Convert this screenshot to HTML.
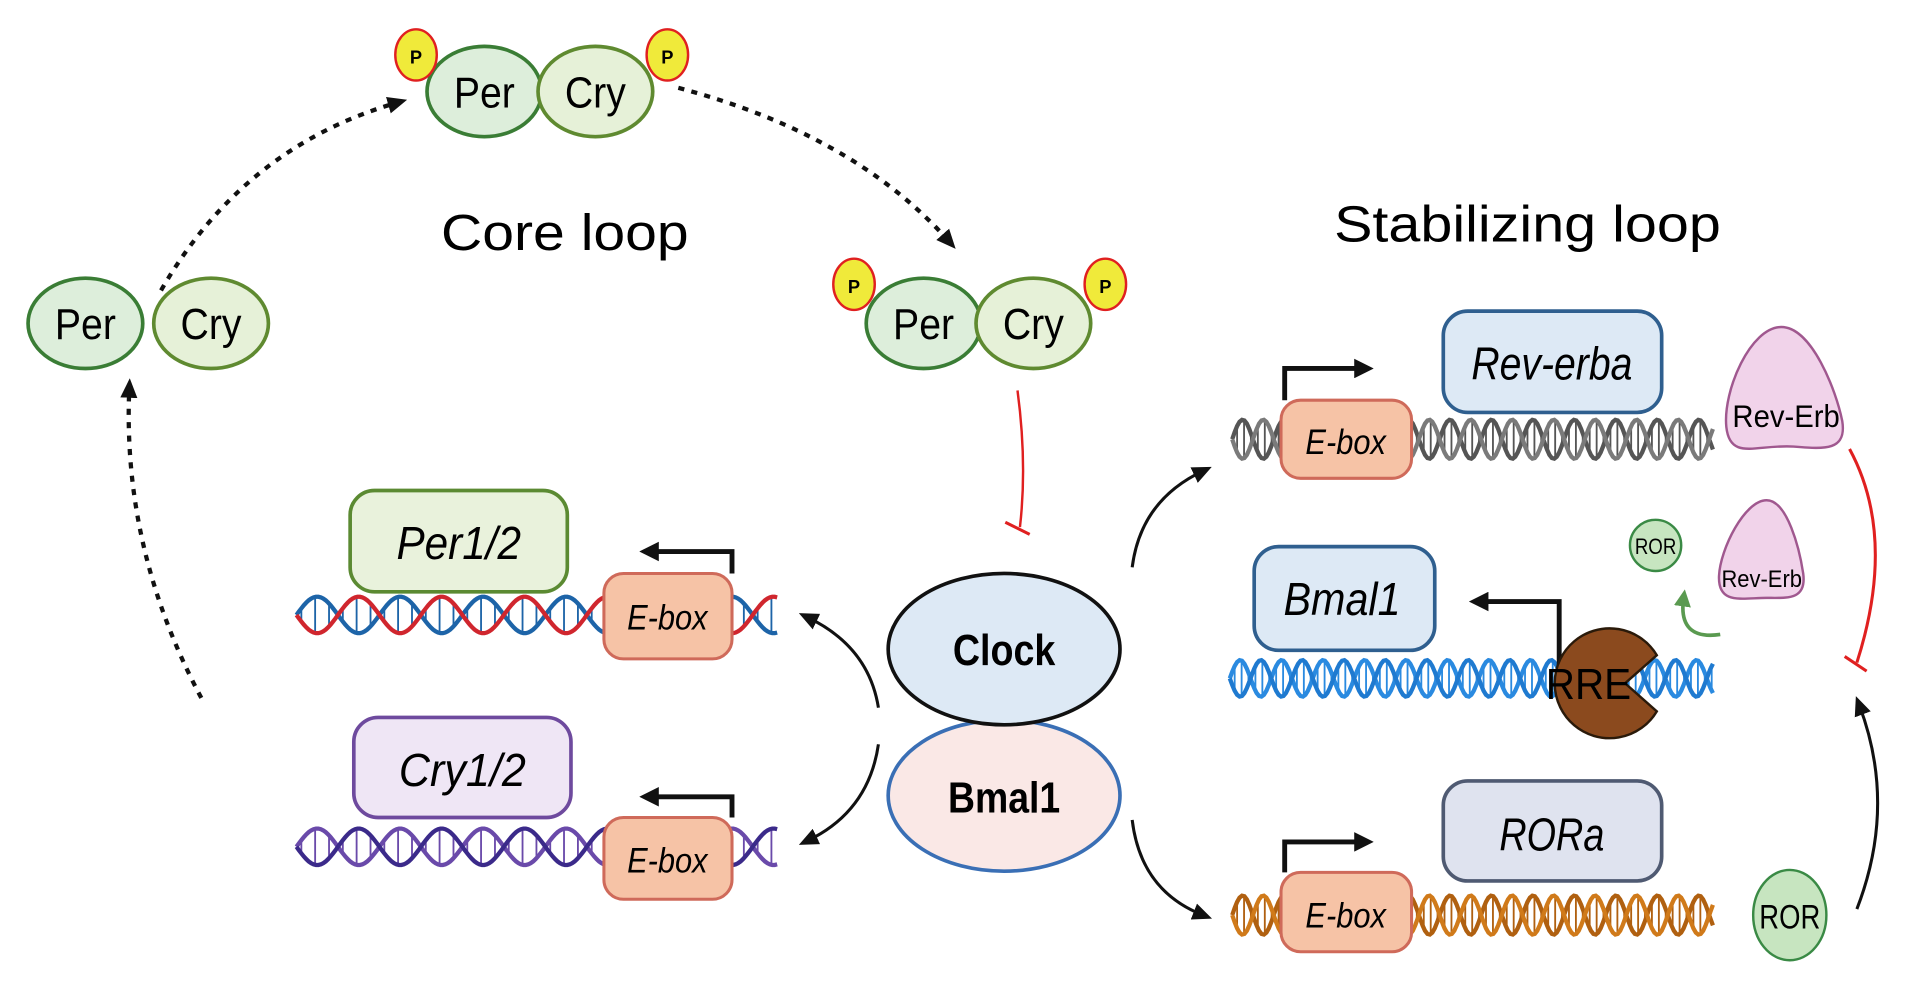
<!DOCTYPE html>
<html><head><meta charset="utf-8"><style>
html,body{margin:0;padding:0;background:#fff;width:1913px;height:981px;overflow:hidden}
svg{display:block}
text{font-family:"Liberation Sans",sans-serif}
</style></head><body>
<svg id="s" width="1913" height="981" viewBox="0 0 1568 804" preserveAspectRatio="none">
<defs>
<marker id="ah" markerWidth="16" markerHeight="16" refX="8" refY="8" orient="auto" markerUnits="userSpaceOnUse"><path d="M0,1 L16,8 L0,15 z" fill="#111"/></marker>
<marker id="ahg" markerWidth="14" markerHeight="14" refX="7" refY="7" orient="auto" markerUnits="userSpaceOnUse"><path d="M0,0 L14,7 L0,14 z" fill="#5a9a50"/></marker>
<marker id="ahb" markerWidth="16" markerHeight="16" refX="2" refY="8" orient="auto" markerUnits="userSpaceOnUse"><path d="M0,0 L16,8 L0,16 z" fill="#111"/></marker>
</defs>
<g id="dna"></g>

<path d="M132,238 Q200,120 326,84" fill="none" stroke="#111" stroke-width="3.5" stroke-dasharray="5,6" marker-end="url(#ah)"/>
<path d="M556,72 Q700,110 778,198" fill="none" stroke="#111" stroke-width="3.5" stroke-dasharray="5,6" marker-end="url(#ah)"/>
<path d="M165,572 Q100,450 106,318" fill="none" stroke="#111" stroke-width="3.5" stroke-dasharray="5,6" marker-end="url(#ah)"/>

<ellipse cx="397" cy="75" rx="47" ry="37" fill="#ddeedb" stroke="#3a7d35" stroke-width="3"/>
<ellipse cx="488" cy="75" rx="47" ry="37" fill="#e6f1d8" stroke="#5f8a30" stroke-width="3"/>
<text x="397" y="88" font-size="36" text-anchor="middle" textLength="50" lengthAdjust="spacingAndGlyphs">Per</text>
<text x="488" y="88" font-size="36" text-anchor="middle" textLength="50" lengthAdjust="spacingAndGlyphs">Cry</text>
<ellipse cx="341" cy="45" rx="17" ry="21" fill="#f0ea3a" stroke="#e02020" stroke-width="2"/>
<text x="341" y="52" font-size="15" font-weight="bold" text-anchor="middle">P</text>
<ellipse cx="547" cy="45" rx="17" ry="21" fill="#f0ea3a" stroke="#e02020" stroke-width="2"/>
<text x="547" y="52" font-size="15" font-weight="bold" text-anchor="middle">P</text>

<text x="463" y="205" font-size="42" text-anchor="middle" textLength="203" lengthAdjust="spacingAndGlyphs">Core loop</text>
<text x="1252" y="198" font-size="42" text-anchor="middle" textLength="317" lengthAdjust="spacingAndGlyphs">Stabilizing loop</text>

<ellipse cx="70" cy="265" rx="47" ry="37" fill="#ddeedb" stroke="#3a7d35" stroke-width="3"/>
<ellipse cx="173" cy="265" rx="47" ry="37" fill="#e6f1d8" stroke="#5f8a30" stroke-width="3"/>
<text x="70" y="278" font-size="36" text-anchor="middle" textLength="50" lengthAdjust="spacingAndGlyphs">Per</text>
<text x="173" y="278" font-size="36" text-anchor="middle" textLength="50" lengthAdjust="spacingAndGlyphs">Cry</text>

<ellipse cx="757" cy="265" rx="47" ry="37" fill="#ddeedb" stroke="#3a7d35" stroke-width="3"/>
<ellipse cx="847" cy="265" rx="47" ry="37" fill="#e6f1d8" stroke="#5f8a30" stroke-width="3"/>
<text x="757" y="278" font-size="36" text-anchor="middle" textLength="50" lengthAdjust="spacingAndGlyphs">Per</text>
<text x="847" y="278" font-size="36" text-anchor="middle" textLength="50" lengthAdjust="spacingAndGlyphs">Cry</text>
<ellipse cx="700" cy="233" rx="17" ry="21" fill="#f0ea3a" stroke="#e02020" stroke-width="2"/>
<text x="700" y="240" font-size="15" font-weight="bold" text-anchor="middle">P</text>
<ellipse cx="906" cy="233" rx="17" ry="21" fill="#f0ea3a" stroke="#e02020" stroke-width="2"/>
<text x="906" y="240" font-size="15" font-weight="bold" text-anchor="middle">P</text>

<path d="M834,320 Q842,380 836,432" fill="none" stroke="#e02020" stroke-width="2"/>
<line x1="824" y1="428" x2="844" y2="438" stroke="#e02020" stroke-width="2.5"/>

<rect x="287" y="402" width="178" height="83" rx="20" fill="#e9f2dc" stroke="#5b8a32" stroke-width="3"/>
<text x="376" y="458" font-size="38" font-style="italic" text-anchor="middle" textLength="102" lengthAdjust="spacingAndGlyphs">Per1/2</text>
<rect x="495" y="470" width="105" height="70" rx="16" fill="#f6c3a6" stroke="#cf6a5a" stroke-width="2.5"/>
<text x="547" y="516" font-size="29" font-style="italic" text-anchor="middle" textLength="66" lengthAdjust="spacingAndGlyphs">E-box</text>
<path d="M600,470 L600,452 L538,452" fill="none" stroke="#111" stroke-width="4" marker-end="url(#ahb)"/>

<rect x="290" y="588" width="178" height="82" rx="20" fill="#efe6f5" stroke="#6e4a9e" stroke-width="3"/>
<text x="379" y="644" font-size="38" font-style="italic" text-anchor="middle" textLength="104" lengthAdjust="spacingAndGlyphs">Cry1/2</text>
<rect x="495" y="670" width="105" height="67" rx="16" fill="#f6c3a6" stroke="#cf6a5a" stroke-width="2.5"/>
<text x="547" y="715" font-size="29" font-style="italic" text-anchor="middle" textLength="66" lengthAdjust="spacingAndGlyphs">E-box</text>
<path d="M600,670 L600,653 L538,653" fill="none" stroke="#111" stroke-width="4" marker-end="url(#ahb)"/>

<path d="M720,580 Q712,530 662,506" fill="none" stroke="#111" stroke-width="2.5" marker-end="url(#ah)"/>
<path d="M720,610 Q712,665 662,689" fill="none" stroke="#111" stroke-width="2.5" marker-end="url(#ah)"/>

<ellipse cx="823" cy="652" rx="95" ry="62" fill="#fae8e6" stroke="#3a6fb5" stroke-width="3"/>
<ellipse cx="823" cy="532" rx="95" ry="62" fill="#dde9f5" stroke="#111" stroke-width="3"/>
<text x="823" y="545" font-size="36" font-weight="bold" text-anchor="middle" textLength="84" lengthAdjust="spacingAndGlyphs">Clock</text>
<text x="823" y="666" font-size="36" font-weight="bold" text-anchor="middle" textLength="92" lengthAdjust="spacingAndGlyphs">Bmal1</text>

<path d="M928,465 Q935,410 986,386" fill="none" stroke="#111" stroke-width="2.5" marker-end="url(#ah)"/>
<path d="M928,672 Q935,730 986,750" fill="none" stroke="#111" stroke-width="2.5" marker-end="url(#ah)"/>

<rect x="1183" y="255" width="179" height="83" rx="20" fill="#dde9f5" stroke="#2f5f8f" stroke-width="3"/>
<text x="1272" y="311" font-size="38" font-style="italic" text-anchor="middle" textLength="132" lengthAdjust="spacingAndGlyphs">Rev-erba</text>
<rect x="1050" y="328" width="107" height="64" rx="16" fill="#f6c3a6" stroke="#cf6a5a" stroke-width="2.5"/>
<text x="1103" y="372" font-size="29" font-style="italic" text-anchor="middle" textLength="66" lengthAdjust="spacingAndGlyphs">E-box</text>
<path d="M1053,328 L1053,302 L1112,302" fill="none" stroke="#111" stroke-width="4" marker-end="url(#ahb)"/>
<path d="M1460,268 C1485,268 1505,320 1510,345 C1514,370 1495,368 1470,366 C1440,364 1418,378 1415,350 C1412,320 1435,268 1460,268 Z" fill="#f1d3ea" stroke="#a0588f" stroke-width="2"/>
<text x="1464" y="350" font-size="26" text-anchor="middle" textLength="88" lengthAdjust="spacingAndGlyphs">Rev-Erb</text>

<rect x="1028" y="448" width="148" height="85" rx="20" fill="#dde9f5" stroke="#2f5f8f" stroke-width="3"/>
<text x="1100" y="504" font-size="38" font-style="italic" text-anchor="middle" textLength="96" lengthAdjust="spacingAndGlyphs">Bmal1</text>
<path d="M1278,545 L1278,493 L1218,493" fill="none" stroke="#111" stroke-width="4" marker-end="url(#ahb)"/>

<rect x="1183" y="640" width="179" height="82" rx="20" fill="#dfe3ef" stroke="#4f5a72" stroke-width="3"/>
<text x="1272" y="697" font-size="38" font-style="italic" text-anchor="middle" textLength="86" lengthAdjust="spacingAndGlyphs">RORa</text>
<rect x="1050" y="715" width="107" height="65" rx="16" fill="#f6c3a6" stroke="#cf6a5a" stroke-width="2.5"/>
<text x="1103" y="760" font-size="29" font-style="italic" text-anchor="middle" textLength="66" lengthAdjust="spacingAndGlyphs">E-box</text>
<path d="M1053,715 L1053,690 L1112,690" fill="none" stroke="#111" stroke-width="4" marker-end="url(#ahb)"/>
<ellipse cx="1467" cy="750" rx="30" ry="37" fill="#c7e5c0" stroke="#3a8a45" stroke-width="2"/>
<text x="1467" y="761" font-size="28" text-anchor="middle" textLength="50" lengthAdjust="spacingAndGlyphs">ROR</text>

<circle cx="1357" cy="447" r="21" fill="#c7e5c0" stroke="#3a8a45" stroke-width="2"/>
<text x="1357" y="454" font-size="18" text-anchor="middle" textLength="34" lengthAdjust="spacingAndGlyphs">ROR</text>
<path d="M1448,410 C1465,410 1475,450 1478,470 C1481,492 1465,490 1448,490 C1428,490 1408,496 1409,472 C1410,450 1430,410 1448,410 Z" fill="#f1d3ea" stroke="#a0588f" stroke-width="2"/>
<text x="1444" y="481" font-size="20" text-anchor="middle" textLength="66" lengthAdjust="spacingAndGlyphs">Rev-Erb</text>
<path d="M1410,520 Q1375,525 1380,490" fill="none" stroke="#5a9a50" stroke-width="3" marker-end="url(#ahg)"/>

<path d="M1516,368 Q1555,440 1522,543" fill="none" stroke="#e02020" stroke-width="2.5"/>
<line x1="1512" y1="538" x2="1530" y2="550" stroke="#e02020" stroke-width="2.5"/>
<path d="M1522,745 Q1555,660 1524,578" fill="none" stroke="#111" stroke-width="2.5" marker-end="url(#ah)"/>

<g id="top"></g>
</svg>
<script>
(function(){
var NS="http://www.w3.org/2000/svg";
function dna(x0,x1,yc,amp,period,c1,c2,parent){
  var g=document.getElementById(parent);
  var p1="",p2="",r="";
  for(var x=x0;x<=x1;x+=2){
    var t=(x-x0)/period*2*Math.PI;
    var y1=yc+amp*Math.sin(t), y2=yc-amp*Math.sin(t);
    p1+=(x==x0?"M":"L")+x+","+y1.toFixed(1);
    p2+=(x==x0?"M":"L")+x+","+y2.toFixed(1);
  }
  for(var x=x0+4;x<=x1;x+=period/6){
    var t=(x-x0)/period*2*Math.PI;
    var a=yc+amp*Math.sin(t), b=yc-amp*Math.sin(t);
    r+="M"+x.toFixed(1)+","+a.toFixed(1)+"L"+x.toFixed(1)+","+b.toFixed(1);
  }
  [[r,c2,1.5],[p2,c2,3.5],[p1,c1,3.5]].forEach(function(d){
    var e=document.createElementNS(NS,"path");
    e.setAttribute("d",d[0]);e.setAttribute("fill","none");
    e.setAttribute("stroke",d[1]);e.setAttribute("stroke-width",d[2]);
    g.appendChild(e);
  });
}
dna(243,637,504,15,68,"#d0262e","#1d64a8","dna");
dna(243,637,694,15,68,"#3b2a8a","#6a4aaa","dna");
dna(1010,1405,360,16,34,"#7a7a7a","#555","dna");
dna(1008,1404,556,15,34,"#1f7ad0","#2a8ae0","dna");
dna(1010,1405,750,16,34,"#d07a1a","#b06010","dna");
var g=document.getElementById("top");
var pm=document.createElementNS(NS,"path");
pm.setAttribute("d","M1358,537 A45,45 0 1 0 1358,583 L1332,560 Z");
pm.setAttribute("fill","#8b4a1e");pm.setAttribute("stroke","#2a1a0a");pm.setAttribute("stroke-width","2");
g.appendChild(pm);
var t=document.createElementNS(NS,"text");
t.setAttribute("x","1302");t.setAttribute("y","573");t.setAttribute("font-size","36");t.setAttribute("text-anchor","middle");
t.setAttribute("textLength","70");t.setAttribute("lengthAdjust","spacingAndGlyphs");
t.textContent="RRE";g.appendChild(t);
})();
</script>
</body></html>
